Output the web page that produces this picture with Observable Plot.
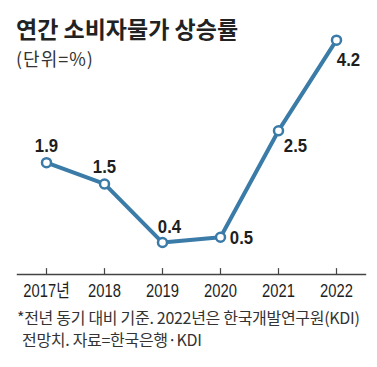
<!DOCTYPE html>
<html><head><meta charset="utf-8">
<script src="https://cdn.jsdelivr.net/npm/d3@7"></script>
<script src="https://cdn.jsdelivr.net/npm/@observablehq/plot@0.6"></script>
<style>
html,body{margin:0;padding:0;background:#fff;}
#wrap{position:relative;width:377px;height:367px;overflow:hidden;font-family:"Noto Sans CJK KR",sans-serif;color:#222;}
#title{position:absolute;left:16px;top:17px;font-size:23px;font-weight:700;line-height:23px;letter-spacing:0px;white-space:nowrap;}
#sub{position:absolute;left:16px;top:48px;font-size:18px;line-height:20px;color:#333;letter-spacing:1px;white-space:nowrap;}
#chart{position:absolute;left:0;top:0;}
#note{position:absolute;left:17px;top:306px;font-size:16px;line-height:22px;color:#333;letter-spacing:-0.3px;padding-left:5px;text-indent:-5px;white-space:nowrap;}
</style></head>
<body><div id="wrap">
<div id="chart"></div>
<div id="title">연간 소비자물가 상승률</div>
<div id="sub">(단위=%)</div>
<div id="note">*전년 동기 대비 기준. 2022년은 한국개발연구원(KDI)<br>전망치. 자료=한국은행·KDI</div>
</div>
<script>
const years = [2017, 2018, 2019, 2020, 2021, 2022];
const values = [1.9, 1.5, 0.4, 0.5, 2.5, 4.2];
const tickLabels = ["2017년", "2018", "2019", "2020", "2021", "2022"];

const data = years.map((y, i) => ({year: y, value: values[i], label: values[i].toFixed(1)}));
const blue = "#3b7ba8";
const numFont = "'Liberation Sans','Noto Sans CJK KR',sans-serif";
const lab = (ys, dx, dy) => Plot.text(data.filter(d => ys.includes(d.year)), {
  x: "year", y: "value", text: "label", dx, dy,
  fontSize: 19, fontWeight: "bold", fill: "#1e1e1e", fontFamily: numFont,
  className: "vlab"
});
const upTick = {draw(context, l) { context.moveTo(0, 0); context.lineTo(0, -l); }};

const chart = Plot.plot({
  width: 377, height: 300,
  marginLeft: 17, marginRight: 12, marginTop: 29, marginBottom: 26,
  style: {overflow: "visible"},
  x: {type: "point", domain: years, padding: 0.5},
  y: {domain: [-0.2, 4.4], axis: null},
  marks: [
    Plot.frame({anchor: "bottom", stroke: "#444", strokeWidth: 1.4}),
    Plot.vector(years, {x: d => d, frameAnchor: "bottom", length: 6, anchor: "start",
      shape: upTick, stroke: "#444", strokeWidth: 1.2}),
    Plot.axisX({tickSize: 0, tickPadding: 10, label: null,
      tickFormat: d => tickLabels[years.indexOf(d)],
      fontSize: 18, fontFamily: numFont, fill: "#1e1e1e"}),
    Plot.line(data, {x: "year", y: "value", stroke: blue, strokeWidth: 4}),
    Plot.dot(data, {x: "year", y: "value", r: 4.5, fill: "white", stroke: blue, strokeWidth: 2.5}),
    lab([2017, 2018], 0, -17),
    lab([2019], 7, -16),
    lab([2020], 21, 1),
    lab([2021], 17, 15),
    lab([2022], 12, 20)
  ]
});
document.getElementById("chart").append(chart);
// condense the number fonts (the reference uses a narrow face)
const condense = (sel, k) => chart.querySelectorAll(sel).forEach(t => {
  const w = t.getComputedTextLength();
  t.setAttribute("textLength", (w * k).toFixed(1));
  t.setAttribute("lengthAdjust", "spacingAndGlyphs");
});
condense('g[aria-label="x-axis tick label"] text', 0.82);
condense('.vlab text', 0.88);
</script>
</body></html>
